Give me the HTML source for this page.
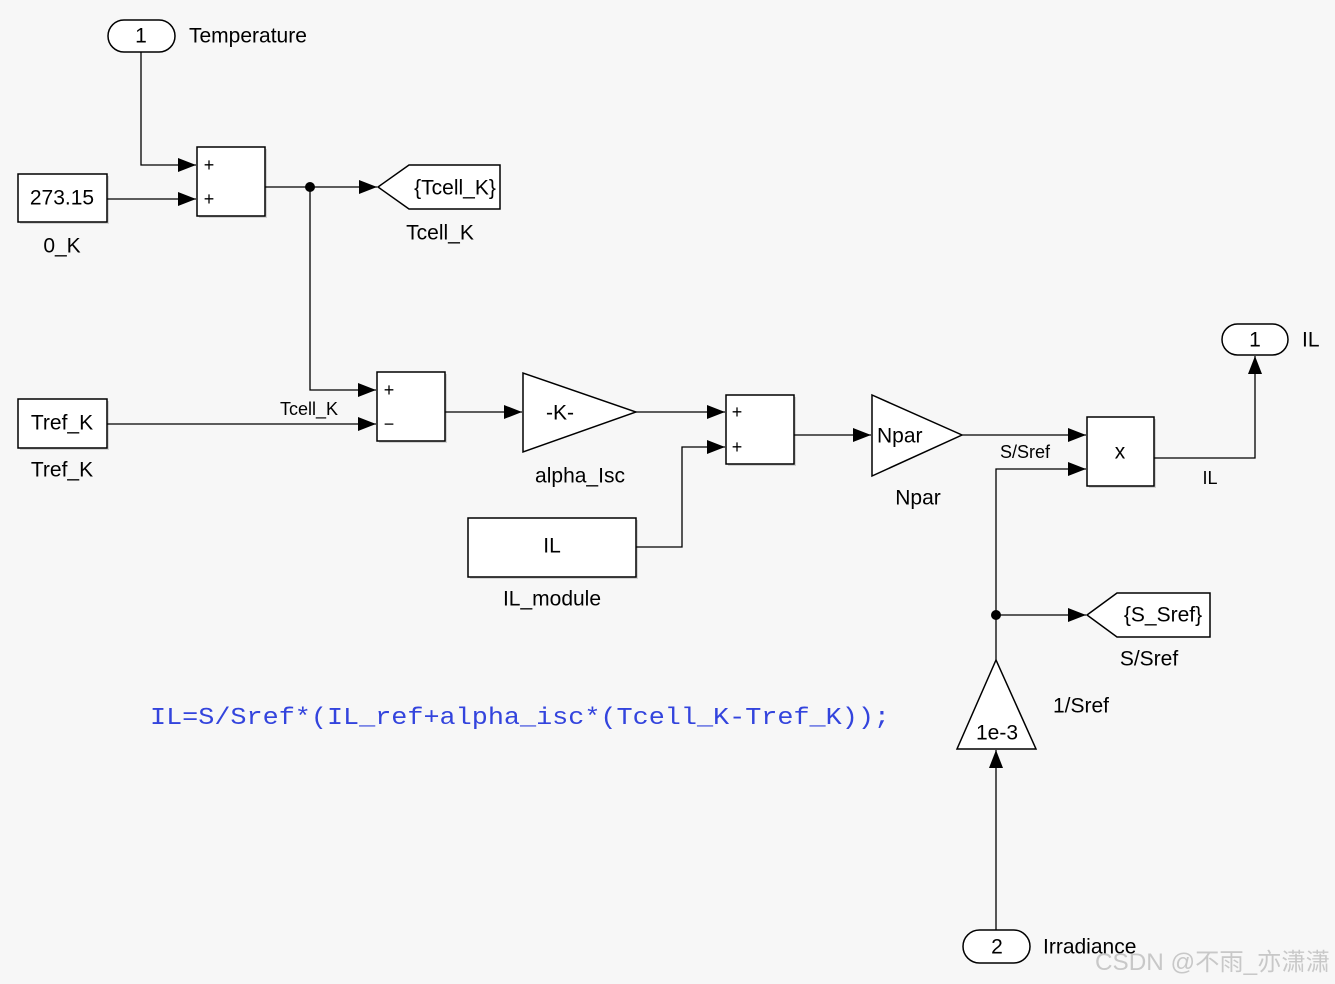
<!DOCTYPE html>
<html><head><meta charset="utf-8"><style>
html,body{margin:0;padding:0;background:#f7f7f7;}
svg{display:block;font-family:"Liberation Sans",sans-serif;}
</style></head><body>
<svg width="1335" height="984" viewBox="0 0 1335 984" xmlns="http://www.w3.org/2000/svg">
<defs>
<marker id="a" markerWidth="20" markerHeight="14" refX="18" refY="7" orient="auto" markerUnits="userSpaceOnUse"><path d="M0,0 L18,7 L0,14 Z" fill="#000"/></marker>
</defs>
<rect width="1335" height="984" fill="#f7f7f7"/>
<g fill="#bbb" stroke="none" opacity="0.6">
<rect x="20" y="176" width="89" height="48"/><rect x="199" y="149" width="68" height="69"/>
<rect x="20" y="401" width="89" height="49"/><rect x="379" y="374" width="68" height="69"/>
<rect x="728" y="397" width="68" height="69"/><rect x="470" y="520" width="168" height="59"/>
<rect x="1089" y="419" width="67" height="69"/>
</g>
<g fill="#fff" stroke="#000" stroke-width="1.5">
<rect x="108" y="20" width="67" height="32" rx="16"/>
<rect x="1222" y="324" width="66" height="31" rx="15.5"/>
<rect x="963" y="930" width="67" height="33" rx="16.5"/>
<rect x="18" y="174" width="89" height="48"/>
<rect x="197" y="147" width="68" height="69"/>
<rect x="18" y="399" width="89" height="49"/>
<rect x="377" y="372" width="68" height="69"/>
<rect x="726" y="395" width="68" height="69"/>
<rect x="468" y="518" width="168" height="59"/>
<rect x="1087" y="417" width="67" height="69"/>
<polygon points="378,187 409,165 500,165 500,209 409,209"/>
<polygon points="1087,615 1117,593 1210,593 1210,637 1117,637"/>
<polygon points="523,373 523,452 636,412"/>
<polygon points="872,395 872,476 962,435"/>
<polygon points="996,660 957,749 1036,749"/>
</g>
<g fill="none" stroke="#000" stroke-width="1.3">
<polyline points="141,52 141,165 196,165" marker-end="url(#a)"/>
<polyline points="107,199 196,199" marker-end="url(#a)"/>
<polyline points="265,187 377,187" marker-end="url(#a)"/>
<polyline points="310,187 310,390 376,390" marker-end="url(#a)"/>
<polyline points="107,424 376,424" marker-end="url(#a)"/>
<polyline points="445,412 522,412" marker-end="url(#a)"/>
<polyline points="636,412 725,412" marker-end="url(#a)"/>
<polyline points="636,547 682,547 682,447 725,447" marker-end="url(#a)"/>
<polyline points="794,435 871,435" marker-end="url(#a)"/>
<polyline points="962,435 1086,435" marker-end="url(#a)"/>
<polyline points="996,660 996,469 1086,469" marker-end="url(#a)"/>
<polyline points="996,615 1086,615" marker-end="url(#a)"/>
<polyline points="1154,458 1255,458 1255,356" marker-end="url(#a)"/>
<polyline points="996,930 996,750" marker-end="url(#a)"/>
</g>
<circle cx="310" cy="187" r="5"/><circle cx="996" cy="615" r="5"/>
<g font-size="21" fill="#000" text-anchor="middle" dominant-baseline="central">
<text x="141" y="36">1</text>
<text x="1255" y="340">1</text>
<text x="997" y="947">2</text>
<text x="62" y="198">273.15</text>
<text x="62" y="423">Tref_K</text>
<text x="552" y="546">IL</text>
<text x="560" y="413">-K-</text>
<text x="455" y="188">{Tcell_K}</text>
<text x="1163" y="615">{S_Sref}</text>
<text x="1120" y="452">x</text>
<text x="997" y="733">1e-3</text>
<text x="877" y="436" text-anchor="start">Npar</text>
</g>
<g font-size="21" fill="#000" text-anchor="middle" dominant-baseline="central">
<text x="189" y="36" text-anchor="start">Temperature</text>
<text x="62" y="246">0_K</text>
<text x="440" y="233">Tcell_K</text>
<text x="62" y="470">Tref_K</text>
<text x="580" y="476">alpha_Isc</text>
<text x="552" y="599">IL_module</text>
<text x="918" y="498">Npar</text>
<text x="1302" y="340" text-anchor="start">IL</text>
<text x="1149" y="659">S/Sref</text>
<text x="1081" y="706">1/Sref</text>
<text x="1043" y="947" text-anchor="start">Irradiance</text>
</g>
<g font-size="18" fill="#000" text-anchor="middle" dominant-baseline="central">
<text x="209" y="165">+</text><text x="209" y="199">+</text>
<text x="389" y="390">+</text><text x="389" y="424">−</text>
<text x="737" y="412">+</text><text x="737" y="447">+</text>
<text x="309" y="409">Tcell_K</text>
<text x="1025" y="452">S/Sref</text>
<text x="1210" y="478">IL</text>
</g>
<text x="150" y="724" font-family="'Liberation Mono',monospace" font-size="24" fill="#3344dd" textLength="740" lengthAdjust="spacingAndGlyphs">IL=S/Sref*(IL_ref+alpha_isc*(Tcell_K-Tref_K));</text>
<text x="1095" y="970" font-family="'Liberation Sans','Noto Sans CJK SC',sans-serif" font-size="24" fill="#c8c8c8" textLength="235" lengthAdjust="spacingAndGlyphs">CSDN @不雨_亦潇潇</text>
</svg>
</body></html>
